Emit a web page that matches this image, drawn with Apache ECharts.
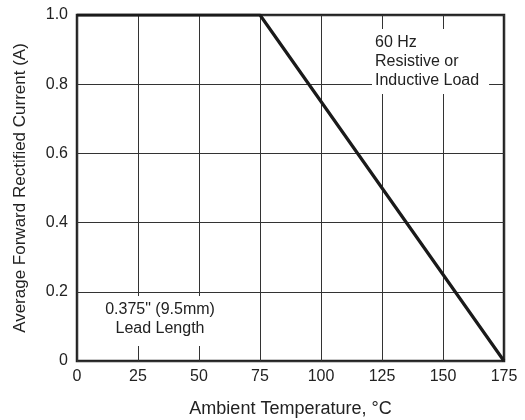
<!DOCTYPE html>
<html>
<head>
<meta charset="utf-8">
<script src="https://cdn.jsdelivr.net/npm/echarts@6/dist/echarts.min.js"></script>
<style>
  html, body { margin: 0; padding: 0; background: #fff; }
  #chart { width: 525px; height: 420px; }
</style>
</head>
<body>
<div id="chart"></div>
<script>
// derating curve
var temps = [0, 75, 175];
var current = [1.0, 1.0, 0];
var xTicks = [0, 25, 50, 75, 100, 125, 150, 175];
var yTicks = [0, 0.2, 0.4, 0.6, 0.8, 1.0];

var chart = echarts.init(document.getElementById("chart"));
var font = "'Liberation Sans', Arial, sans-serif";

var points = temps.map(function (t, i) { return [t, current[i]]; });

var option = {
    animation: false,
    textStyle: { fontFamily: font },
    grid: {
        left: 77, right: 21, top: 15, bottom: 59,
        outerBoundsMode: "none", containLabel: false,
        show: true, borderColor: "#222", borderWidth: 2.5
    },
    xAxis: {
        type: "value", min: 0, max: 175, interval: 25,
        name: "Ambient Temperature, °C",
        nameLocation: "middle", nameGap: 39,
        nameTextStyle: { color: "#222", fontSize: 18, fontFamily: font },
        axisLine: { show: false }, axisTick: { show: false },
        axisLabel: { color: "#222", fontSize: 16, margin: 8, fontFamily: font,
            formatter: function (v) { return xTicks.indexOf(v) >= 0 ? String(v) : ""; } },
        splitLine: { lineStyle: { color: "#333", width: 1 } }
    },
    yAxis: {
        type: "value", min: 0, max: 1, interval: 0.2,
        name: "Average Forward Rectified Current (A)",
        nameLocation: "middle", nameGap: 48,
        nameTextStyle: { color: "#222", fontSize: 17, fontFamily: font },
        axisLine: { show: false }, axisTick: { show: false },
        axisLabel: { color: "#222", fontSize: 16, margin: 9, fontFamily: font,
            formatter: function (v) {
                var t = yTicks.filter(function (y) { return Math.abs(y - v) < 1e-9; });
                if (!t.length) return "";
                return v === 0 ? "0" : v.toFixed(1);
            } },
        splitLine: { lineStyle: { color: "#333", width: 1 } }
    },
    series: [{
        type: "line",
        data: points,
        symbol: "none",
        lineStyle: { color: "#1a1a1a", width: 3.2 },
        z: 3
    }],
    graphic: [
        {
            type: "text", x: 372, y: 29, z: 10,
            style: {
                text: "60 Hz\nResistive or\nInductive Load",
                font: "16px " + font, fill: "#222", lineHeight: 19,
                align: "left", verticalAlign: "top",
                backgroundColor: "#fff", padding: [4, 10, 4, 3]
            }
        },
        {
            type: "text", x: 160, y: 296, z: 10,
            style: {
                text: "0.375\" (9.5mm)\nLead Length",
                font: "16px " + font, fill: "#222", lineHeight: 19,
                align: "center", verticalAlign: "top",
                backgroundColor: "#fff", padding: [4, 6, 8, 6]
            }
        }
    ]
};

chart.setOption(option);
</script>
</body>
</html>
